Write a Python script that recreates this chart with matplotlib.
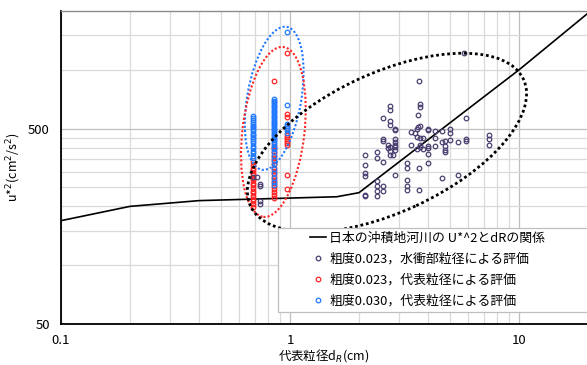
import numpy as np
import matplotlib
matplotlib.use("Agg")
import matplotlib.pyplot as plt
import matplotlib.transforms as mtransforms
from matplotlib.patches import Ellipse, Rectangle
from matplotlib.ticker import FixedLocator, LogLocator, NullFormatter

plt.rcParams['font.family'] = ['Noto Sans CJK JP', 'DejaVu Sans']
plt.rcParams['font.size'] = 9

# 日本の沖積地河川の U*^2 と dR の関係
line_d = [0.1, 0.2, 0.4, 1.6, 2.0, 10.0, 20.0]
line_u2 = [169, 200, 214, 224, 235, 1000, 1950]

# 粗度0.023, 水衝部粒径による評価
purple_d = [0.69, 0.72, 0.74, 0.74, 0.74, 0.74,
            5.74, 3.67, 3.71, 3.71, 2.74, 2.74, 3.62, 2.55, 2.74, 2.74,
            5.89, 2.86, 2.86, 3.59, 3.62, 3.71, 4.01, 4.01, 4.31, 4.61,
            4.97, 3.38, 3.51, 3.59, 3.71, 3.80, 4.31, 4.97, 7.39, 7.39,
            7.39, 5.89, 5.89, 5.43, 4.97, 4.77, 4.61, 2.55, 2.55, 2.86,
            2.86, 2.86, 2.86, 2.86, 2.83, 2.74, 2.67, 2.67, 2.74, 2.74,
            3.38, 3.71, 3.71, 3.59, 3.80, 4.01, 4.01, 4.31, 4.77, 4.77,
            4.77, 2.39, 2.39, 2.13, 2.13, 2.13, 2.13, 2.55, 2.86, 3.24,
            3.24, 3.67, 4.01, 4.01, 4.61, 5.43, 2.39, 2.39, 2.39, 2.39,
            2.55, 2.55, 3.24, 3.24, 3.24, 3.67, 2.13, 2.13]
purple_u2 = [282, 282, 261, 253, 213, 206,
             1212, 878, 669, 643, 656, 626, 588, 567, 550, 524,
             567, 498, 494, 498, 508, 514, 498, 490, 488, 488,
             498, 479, 475, 455, 446, 446, 446, 477, 466, 443,
             414, 443, 432, 429, 439, 431, 427, 443, 431, 443,
             429, 414, 403, 390, 368, 365, 414, 398, 401, 382,
             412, 412, 401, 393, 393, 406, 400, 409, 406, 390,
             378, 378, 354, 368, 327, 296, 285, 336, 289, 333,
             313, 314, 372, 335, 280, 289, 269, 253, 239, 227,
             253, 241, 274, 253, 243, 244, 228, 225]

# 代表粒径 (cm) の3列
col_d = [0.69, 0.85, 0.97]

# 粗度0.023, 代表粒径による評価
red_c1 = [336, 326, 316, 306, 298, 289, 280, 272, 264, 256, 248, 240, 233, 226, 219, 212, 205, 199]
red_c2 = [881, 406, 392, 378, 366, 352, 340, 328, 316, 305, 294, 284, 274, 264, 254, 245, 236, 228, 221]
red_c3 = [1222, 594, 575, 466, 455, 444, 434, 424, 414, 290, 246]

# 粗度0.030, 代表粒径による評価
blue_c1 = [578, 566, 553, 541, 530, 518, 507, 496, 484, 472, 463, 452, 440, 431, 420, 408, 398, 386, 375, 362, 352]
blue_c2 = [710, 695, 681, 668, 655, 642, 630, 618, 606, 595, 583, 572, 561, 550, 540, 530, 520, 510, 500,
           490, 481, 472, 463, 454, 445, 436, 427, 418, 405, 392, 380, 362, 345, 330, 312, 296, 280, 268, 258]
blue_c3 = [1560, 663, 531, 518, 504, 490, 476]

labels = ['日本の沖積地河川の U*^2とdRの関係',
          '粗度0.023，水衝部粒径による評価',
          '粗度0.023，代表粒径による評価',
          '粗度0.030，代表粒径による評価']

c_purple = '#4b3f72'
c_red = '#ff2424'
c_blue = '#1f78ff'

fig = plt.figure(figsize=(5.87, 3.65), dpi=100)
ax = fig.add_axes([61 / 587, 1 - 324 / 365, 526 / 587, 313 / 365])

ax.set_xscale('log')
ax.set_yscale('log')
ax.set_xlim(0.1, 19.8)
ax.set_ylim(50, 2000)

ax.xaxis.set_major_locator(FixedLocator([0.1, 1, 10]))
ax.set_xticklabels(['0.1', '1', '10'])
ax.xaxis.set_minor_locator(LogLocator(base=10, subs=np.arange(2, 10)))
ax.xaxis.set_minor_formatter(NullFormatter())
ax.yaxis.set_major_locator(FixedLocator([50, 500]))
ax.set_yticklabels(['50', '500'])
ax.yaxis.set_minor_locator(FixedLocator([100, 150, 200, 250, 300, 350, 400, 450, 1000, 1500]))
ax.yaxis.set_minor_formatter(NullFormatter())
ax.tick_params(which='both', length=0, labelsize=9.5)
ax.tick_params(axis='x', pad=7)
ax.tick_params(axis='y', pad=8)

ax.grid(which='major', color='#bfbfbf', linewidth=0.9)
ax.grid(which='minor', color='#d9d9d9', linewidth=0.9)
ax.set_axisbelow(True)

for s in ['left', 'bottom']:
    ax.spines[s].set_linewidth(1.3)
    ax.spines[s].set_color('black')
ax.spines['top'].set_color('#8c8c8c')
ax.spines['top'].set_linewidth(1.0)
ax.spines['right'].set_visible(False)

ms = 3.3
h_line, = ax.plot(line_d, line_u2, color='black', linewidth=1.2, zorder=3)

red_d = np.concatenate([np.full(len(red_c1), col_d[0]), np.full(len(red_c2), col_d[1]), np.full(len(red_c3), col_d[2])])
red_u2 = np.concatenate([red_c1, red_c2, red_c3])
blue_d = np.concatenate([np.full(len(blue_c1), col_d[0]), np.full(len(blue_c2), col_d[1]), np.full(len(blue_c3), col_d[2])])
blue_u2 = np.concatenate([blue_c1, blue_c2, blue_c3])

h_red, = ax.plot(red_d, red_u2, 'o', ms=ms, mfc='none', mec=c_red, mew=0.9, zorder=3)
h_blue, = ax.plot(blue_d, blue_u2, 'o', ms=ms, mfc='none', mec=c_blue, mew=0.9, zorder=3)
h_pur, = ax.plot(purple_d, purple_u2, 'o', ms=ms, mfc='none', mec=c_purple, mew=0.9, zorder=3)


# dotted rings: center (data), width/height in pixels, angle
def ring(xc, yc, w, h, ang, color, lw):
    tr = fig.dpi_scale_trans + mtransforms.ScaledTranslation(xc, yc, ax.transData)
    e = Ellipse((0, 0), w / fig.dpi, h / fig.dpi, angle=ang, transform=tr, fill=False,
                edgecolor=color, linewidth=lw, linestyle=(0, (1, 1.0)), zorder=3.5)
    ax.add_patch(e)


ring(0.853, 715, 54, 145, -9.9, c_blue, 1.5)
ring(0.846, 481, 62, 171, -6.7, c_red, 1.5)
ring(2.65, 424, 301, 139, 24.9, 'black', 2.0)

# legend frame (runs off the right edge like the original)
frame = Rectangle((277.5 / 587, 1 - 312 / 365), 0.6, 84 / 365, transform=fig.transFigure,
                  facecolor='white', edgecolor='#bfbfbf', linewidth=0.9, clip_on=False, zorder=4)
ax.add_patch(frame)
leg = ax.legend([h_line, h_pur, h_red, h_blue], labels, loc='upper left',
                bbox_to_anchor=(310 / 587, 1 - 232 / 365), bbox_transform=fig.transFigure,
                frameon=False, borderpad=0, borderaxespad=0, handlelength=1.2,
                handletextpad=0.3, labelspacing=0.6, numpoints=1, fontsize=9.3)
leg.set_zorder(5)

ax.set_xlabel('代表粒径d$_R$(cm)', fontsize=9)
ax.xaxis.set_label_coords(0.5, -0.075)
ax.set_ylabel('u*$^2$(cm$^2$/s$^2$)', fontsize=9)
ax.yaxis.set_label_coords(-0.072, 0.5)

fig.savefig('out.png', dpi=100)
